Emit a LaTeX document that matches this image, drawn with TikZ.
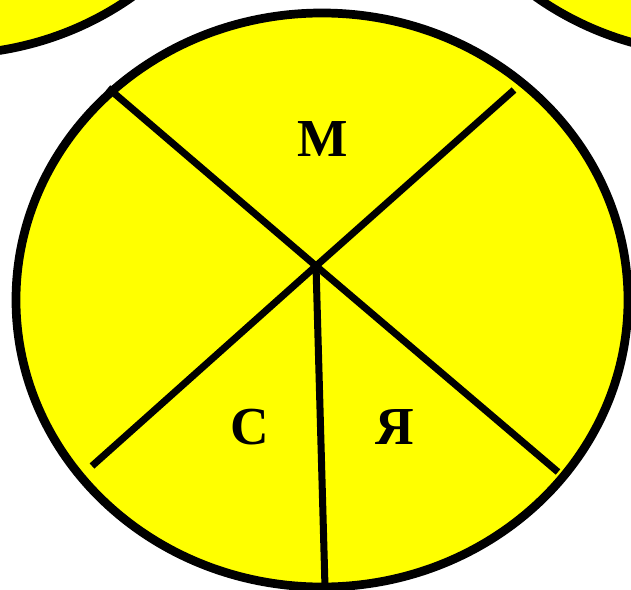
\documentclass[tikz,border=0pt]{standalone}
\usepackage{fontspec}
\setmainfont{Liberation Serif}
\definecolor{sunny}{RGB}{255,255,0}
\tikzset{
  disc/.style={draw=black, line width=6.2pt, fill=sunny},
  spoke/.style={draw=black, line width=5pt},
  letter/.style={font=\fontsize{38}{40}\selectfont\bfseries, inner sep=0pt}
}
\begin{document}
\begin{tikzpicture}[x=0.025cm, y=-0.025cm]
\useasboundingbox (0,0) rectangle (631,590);
% neighbouring circles, cut by the border
\draw[disc] (-52,-231) ellipse (305.5 and 285.5);
\draw[disc] (720,-231) ellipse (305.5 and 285.5);
% the main circle
\draw[disc] (322,300) ellipse (306 and 287);

\coordinate (mid) at (316,266);
\coordinate (ul) at (108,88);
\coordinate (ur) at (514,90);
\coordinate (ll) at (92,466);
\coordinate (lr) at (558,472);
\coordinate (bot) at (325,587);

\draw[spoke] (ul) -- (mid);
\draw[spoke] (ur) -- (mid);
\draw[spoke] (ll) -- (mid);
\draw[spoke] (lr) -- (mid);
\draw[spoke] (bot) -- (mid);

\node[letter] (m) at (323,139) {М};
\node[letter] (s) at (250,427) {С};
\node[letter] (ya) at (395,427) {Я};
\end{tikzpicture}
\end{document}
